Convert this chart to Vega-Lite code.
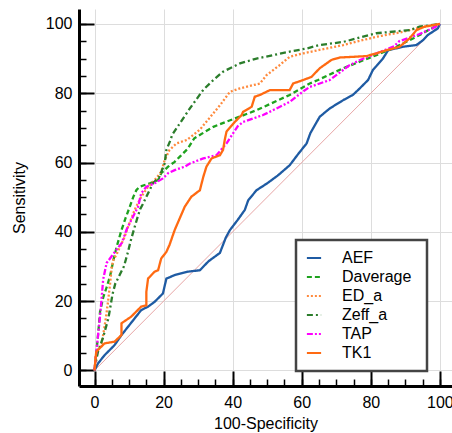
{
  "$schema": "https://vega.github.io/schema/vega-lite/v6.json",
  "width": 373,
  "height": 377,
  "autosize": {"type": "none"},
  "padding": {"left": 79, "top": 9, "right": 0, "bottom": 47},
  "config": {
    "font": "Liberation Sans",
    "view": {"stroke": null},
    "axis": {"labelFont": "Liberation Sans", "titleFont": "Liberation Sans"},
    "legend": {"strokeWidth": 2.5}
  },
  "datasets": {
    "diag": [{"x": 0, "y": 0}, {"x": 100, "y": 100}],
    "roc": [
      {"s": "AEF", "x": 0, "y": 0}, {"s": "AEF", "x": 1, "y": 2}, {"s": "AEF", "x": 2.9, "y": 4.4}, {"s": "AEF", "x": 5.8, "y": 7.3}, {"s": "AEF", "x": 7.8, "y": 10.2}, {"s": "AEF", "x": 9.7, "y": 12.6}, {"s": "AEF", "x": 11.6, "y": 15}, {"s": "AEF", "x": 13.5, "y": 17.4}, {"s": "AEF", "x": 15.5, "y": 18.4}, {"s": "AEF", "x": 17.4, "y": 19.8}, {"s": "AEF", "x": 19.8, "y": 22.2}, {"s": "AEF", "x": 20.8, "y": 26.5}, {"s": "AEF", "x": 23.2, "y": 27.5}, {"s": "AEF", "x": 27, "y": 28.5}, {"s": "AEF", "x": 30.5, "y": 28.9}, {"s": "AEF", "x": 33, "y": 31.5}, {"s": "AEF", "x": 36.3, "y": 33.9}, {"s": "AEF", "x": 38, "y": 38.3}, {"s": "AEF", "x": 39.2, "y": 40.5}, {"s": "AEF", "x": 41.5, "y": 43.5}, {"s": "AEF", "x": 43.5, "y": 46.3}, {"s": "AEF", "x": 44.5, "y": 49.1}, {"s": "AEF", "x": 46.9, "y": 52}, {"s": "AEF", "x": 50, "y": 54}, {"s": "AEF", "x": 53, "y": 56.2}, {"s": "AEF", "x": 56.5, "y": 59.2}, {"s": "AEF", "x": 59, "y": 62.5}, {"s": "AEF", "x": 61.4, "y": 65.5}, {"s": "AEF", "x": 62.5, "y": 68.5}, {"s": "AEF", "x": 65.2, "y": 73.2}, {"s": "AEF", "x": 68.1, "y": 75.6}, {"s": "AEF", "x": 72, "y": 78}, {"s": "AEF", "x": 74.8, "y": 79.5}, {"s": "AEF", "x": 76.8, "y": 81.4}, {"s": "AEF", "x": 79.2, "y": 83.8}, {"s": "AEF", "x": 80.6, "y": 86.7}, {"s": "AEF", "x": 83.5, "y": 90}, {"s": "AEF", "x": 85, "y": 92.4}, {"s": "AEF", "x": 89.3, "y": 93.4}, {"s": "AEF", "x": 93.2, "y": 93.9}, {"s": "AEF", "x": 95.1, "y": 95.3}, {"s": "AEF", "x": 96.5, "y": 96.8}, {"s": "AEF", "x": 99.4, "y": 98.7}, {"s": "AEF", "x": 100, "y": 100},

      {"s": "Daverage", "x": 0, "y": 0}, {"s": "Daverage", "x": 0.5, "y": 5}, {"s": "Daverage", "x": 1, "y": 10}, {"s": "Daverage", "x": 1.6, "y": 17}, {"s": "Daverage", "x": 2.5, "y": 21}, {"s": "Daverage", "x": 3.5, "y": 24}, {"s": "Daverage", "x": 4.5, "y": 27.2}, {"s": "Daverage", "x": 5.5, "y": 32}, {"s": "Daverage", "x": 6.5, "y": 36}, {"s": "Daverage", "x": 7.8, "y": 40.5}, {"s": "Daverage", "x": 9, "y": 44}, {"s": "Daverage", "x": 10.2, "y": 47.2}, {"s": "Daverage", "x": 11.2, "y": 50}, {"s": "Daverage", "x": 12.1, "y": 52}, {"s": "Daverage", "x": 13, "y": 53}, {"s": "Daverage", "x": 16, "y": 54}, {"s": "Daverage", "x": 18.4, "y": 54.9}, {"s": "Daverage", "x": 19.3, "y": 56.9}, {"s": "Daverage", "x": 21.3, "y": 58.8}, {"s": "Daverage", "x": 23.2, "y": 60.2}, {"s": "Daverage", "x": 25, "y": 62}, {"s": "Daverage", "x": 27, "y": 64}, {"s": "Daverage", "x": 28.9, "y": 67}, {"s": "Daverage", "x": 34.4, "y": 70.3}, {"s": "Daverage", "x": 38, "y": 71.7}, {"s": "Daverage", "x": 46.9, "y": 75.1}, {"s": "Daverage", "x": 56.5, "y": 79.5}, {"s": "Daverage", "x": 62.3, "y": 82.8}, {"s": "Daverage", "x": 64.7, "y": 83.8}, {"s": "Daverage", "x": 72, "y": 87.2}, {"s": "Daverage", "x": 81.6, "y": 91}, {"s": "Daverage", "x": 87.4, "y": 93.4}, {"s": "Daverage", "x": 93.2, "y": 96.3}, {"s": "Daverage", "x": 100, "y": 100},

      {"s": "ED_a", "x": 0, "y": 0}, {"s": "ED_a", "x": 0.3, "y": 4}, {"s": "ED_a", "x": 1, "y": 6}, {"s": "ED_a", "x": 2, "y": 7.3}, {"s": "ED_a", "x": 2.8, "y": 12}, {"s": "ED_a", "x": 3.4, "y": 16}, {"s": "ED_a", "x": 3.9, "y": 19.8}, {"s": "ED_a", "x": 4.5, "y": 25}, {"s": "ED_a", "x": 5, "y": 30}, {"s": "ED_a", "x": 5.5, "y": 32}, {"s": "ED_a", "x": 6.4, "y": 33.5}, {"s": "ED_a", "x": 7.5, "y": 36}, {"s": "ED_a", "x": 8.5, "y": 38}, {"s": "ED_a", "x": 9.7, "y": 41.4}, {"s": "ED_a", "x": 11.6, "y": 46.3}, {"s": "ED_a", "x": 13.5, "y": 50.1}, {"s": "ED_a", "x": 15.5, "y": 53}, {"s": "ED_a", "x": 17.4, "y": 54.9}, {"s": "ED_a", "x": 19.3, "y": 57.3}, {"s": "ED_a", "x": 20.3, "y": 60.7}, {"s": "ED_a", "x": 21.7, "y": 63.6}, {"s": "ED_a", "x": 23.7, "y": 65.5}, {"s": "ED_a", "x": 26.7, "y": 66.5}, {"s": "ED_a", "x": 28, "y": 67.5}, {"s": "ED_a", "x": 30.5, "y": 69.5}, {"s": "ED_a", "x": 33.4, "y": 73}, {"s": "ED_a", "x": 36.3, "y": 76.5}, {"s": "ED_a", "x": 39.2, "y": 80.4}, {"s": "ED_a", "x": 42.1, "y": 81.4}, {"s": "ED_a", "x": 47.9, "y": 82.8}, {"s": "ED_a", "x": 49.8, "y": 85.2}, {"s": "ED_a", "x": 53.6, "y": 88.1}, {"s": "ED_a", "x": 56.5, "y": 90.5}, {"s": "ED_a", "x": 60.4, "y": 91.5}, {"s": "ED_a", "x": 64.7, "y": 92.4}, {"s": "ED_a", "x": 72, "y": 93.9}, {"s": "ED_a", "x": 81.6, "y": 96.3}, {"s": "ED_a", "x": 89.3, "y": 97.7}, {"s": "ED_a", "x": 93.2, "y": 98.7}, {"s": "ED_a", "x": 100, "y": 100},

      {"s": "Zeff_a", "x": 0, "y": 0}, {"s": "Zeff_a", "x": 0.5, "y": 3}, {"s": "Zeff_a", "x": 1, "y": 5.4}, {"s": "Zeff_a", "x": 2.5, "y": 9.6}, {"s": "Zeff_a", "x": 4, "y": 15}, {"s": "Zeff_a", "x": 4.7, "y": 19}, {"s": "Zeff_a", "x": 5.2, "y": 22}, {"s": "Zeff_a", "x": 6, "y": 25}, {"s": "Zeff_a", "x": 7, "y": 27}, {"s": "Zeff_a", "x": 8.5, "y": 30}, {"s": "Zeff_a", "x": 9.5, "y": 33.5}, {"s": "Zeff_a", "x": 10.5, "y": 37.5}, {"s": "Zeff_a", "x": 11.5, "y": 41}, {"s": "Zeff_a", "x": 12.4, "y": 44}, {"s": "Zeff_a", "x": 13.2, "y": 46.5}, {"s": "Zeff_a", "x": 14, "y": 48}, {"s": "Zeff_a", "x": 15, "y": 50.1}, {"s": "Zeff_a", "x": 16.9, "y": 54}, {"s": "Zeff_a", "x": 18.8, "y": 55.9}, {"s": "Zeff_a", "x": 20.3, "y": 59.7}, {"s": "Zeff_a", "x": 20.8, "y": 63.6}, {"s": "Zeff_a", "x": 21.8, "y": 66}, {"s": "Zeff_a", "x": 22.5, "y": 68}, {"s": "Zeff_a", "x": 24.7, "y": 71.3}, {"s": "Zeff_a", "x": 27.6, "y": 75.6}, {"s": "Zeff_a", "x": 31.5, "y": 81}, {"s": "Zeff_a", "x": 34.4, "y": 83.8}, {"s": "Zeff_a", "x": 37.2, "y": 86.2}, {"s": "Zeff_a", "x": 42.1, "y": 88.6}, {"s": "Zeff_a", "x": 46.9, "y": 90}, {"s": "Zeff_a", "x": 51.7, "y": 91}, {"s": "Zeff_a", "x": 56.5, "y": 92}, {"s": "Zeff_a", "x": 61.4, "y": 92.9}, {"s": "Zeff_a", "x": 65.2, "y": 93.9}, {"s": "Zeff_a", "x": 72, "y": 94.8}, {"s": "Zeff_a", "x": 81.6, "y": 97.3}, {"s": "Zeff_a", "x": 91.2, "y": 98.2}, {"s": "Zeff_a", "x": 94.1, "y": 99.2}, {"s": "Zeff_a", "x": 100, "y": 100},

      {"s": "TAP", "x": 0, "y": 0}, {"s": "TAP", "x": 0.3, "y": 3}, {"s": "TAP", "x": 0.6, "y": 6}, {"s": "TAP", "x": 1, "y": 10}, {"s": "TAP", "x": 1.6, "y": 15.7}, {"s": "TAP", "x": 2.1, "y": 21.4}, {"s": "TAP", "x": 2.5, "y": 26.3}, {"s": "TAP", "x": 3.5, "y": 31}, {"s": "TAP", "x": 5, "y": 33}, {"s": "TAP", "x": 6.4, "y": 34.9}, {"s": "TAP", "x": 7.9, "y": 36.8}, {"s": "TAP", "x": 9.3, "y": 40.7}, {"s": "TAP", "x": 11.1, "y": 44.3}, {"s": "TAP", "x": 12.6, "y": 47.2}, {"s": "TAP", "x": 13.5, "y": 51.1}, {"s": "TAP", "x": 15, "y": 53}, {"s": "TAP", "x": 17.4, "y": 54}, {"s": "TAP", "x": 19.8, "y": 55.4}, {"s": "TAP", "x": 21.3, "y": 56.9}, {"s": "TAP", "x": 23.2, "y": 57.8}, {"s": "TAP", "x": 26.1, "y": 58.8}, {"s": "TAP", "x": 27.6, "y": 59.7}, {"s": "TAP", "x": 31.5, "y": 61.2}, {"s": "TAP", "x": 35.3, "y": 62.1}, {"s": "TAP", "x": 38.2, "y": 65.5}, {"s": "TAP", "x": 40.1, "y": 68.4}, {"s": "TAP", "x": 41.5, "y": 70.5}, {"s": "TAP", "x": 43, "y": 71.7}, {"s": "TAP", "x": 48.8, "y": 73.7}, {"s": "TAP", "x": 52.7, "y": 75.6}, {"s": "TAP", "x": 56.5, "y": 77.5}, {"s": "TAP", "x": 60.4, "y": 80.5}, {"s": "TAP", "x": 62.3, "y": 81.8}, {"s": "TAP", "x": 68.1, "y": 83.8}, {"s": "TAP", "x": 70, "y": 85.2}, {"s": "TAP", "x": 73.7, "y": 88}, {"s": "TAP", "x": 76.7, "y": 89.5}, {"s": "TAP", "x": 80.4, "y": 91}, {"s": "TAP", "x": 81.6, "y": 91.5}, {"s": "TAP", "x": 86.8, "y": 93.6}, {"s": "TAP", "x": 88.2, "y": 95}, {"s": "TAP", "x": 93.9, "y": 97}, {"s": "TAP", "x": 97.8, "y": 98.7}, {"s": "TAP", "x": 100, "y": 100},

      {"s": "TK1", "x": 0, "y": 0}, {"s": "TK1", "x": 0.3, "y": 3.5}, {"s": "TK1", "x": 0.5, "y": 5.4}, {"s": "TK1", "x": 2.9, "y": 7.8}, {"s": "TK1", "x": 5.8, "y": 8.3}, {"s": "TK1", "x": 7.8, "y": 10.2}, {"s": "TK1", "x": 7.8, "y": 13.6}, {"s": "TK1", "x": 10.6, "y": 15.5}, {"s": "TK1", "x": 13.5, "y": 18.4}, {"s": "TK1", "x": 15, "y": 18.8}, {"s": "TK1", "x": 15, "y": 22.7}, {"s": "TK1", "x": 15.5, "y": 26.5}, {"s": "TK1", "x": 17.4, "y": 28.5}, {"s": "TK1", "x": 18.4, "y": 28.9}, {"s": "TK1", "x": 19.3, "y": 32.3}, {"s": "TK1", "x": 20.8, "y": 34.2}, {"s": "TK1", "x": 21.7, "y": 36.2}, {"s": "TK1", "x": 23.2, "y": 40.5}, {"s": "TK1", "x": 26.1, "y": 47.2}, {"s": "TK1", "x": 28, "y": 50.1}, {"s": "TK1", "x": 30.5, "y": 52}, {"s": "TK1", "x": 31.5, "y": 55.9}, {"s": "TK1", "x": 32.4, "y": 58.8}, {"s": "TK1", "x": 33.9, "y": 61.2}, {"s": "TK1", "x": 36.3, "y": 62.1}, {"s": "TK1", "x": 37.2, "y": 63.6}, {"s": "TK1", "x": 37.7, "y": 66.5}, {"s": "TK1", "x": 38.2, "y": 68.9}, {"s": "TK1", "x": 40.6, "y": 71.7}, {"s": "TK1", "x": 42.6, "y": 73.7}, {"s": "TK1", "x": 43, "y": 74.6}, {"s": "TK1", "x": 45.5, "y": 76.1}, {"s": "TK1", "x": 46.4, "y": 79}, {"s": "TK1", "x": 47.9, "y": 79.5}, {"s": "TK1", "x": 50.8, "y": 80.9}, {"s": "TK1", "x": 56.5, "y": 80.9}, {"s": "TK1", "x": 57.5, "y": 82.8}, {"s": "TK1", "x": 60.4, "y": 83.8}, {"s": "TK1", "x": 62.8, "y": 84.7}, {"s": "TK1", "x": 65.2, "y": 87.2}, {"s": "TK1", "x": 68.6, "y": 89.6}, {"s": "TK1", "x": 71, "y": 90.3}, {"s": "TK1", "x": 78.7, "y": 90.7}, {"s": "TK1", "x": 81.6, "y": 91.5}, {"s": "TK1", "x": 84.5, "y": 92.4}, {"s": "TK1", "x": 88.3, "y": 93.4}, {"s": "TK1", "x": 91.2, "y": 95.8}, {"s": "TK1", "x": 93.2, "y": 98.2}, {"s": "TK1", "x": 95.6, "y": 99.2}, {"s": "TK1", "x": 100, "y": 100}
    ]
  },
  "layer": [
    {
      "data": {"name": "diag"},
      "mark": {"type": "line", "color": "#e8a6a6", "strokeWidth": 1},
      "encoding": {
        "x": {"field": "x", "type": "quantitative",
          "scale": {"domain": [-4.5, 103.5], "nice": false, "zero": false},
          "axis": {"orient": "bottom", "values": [0,5,10,15,20,25,30,35,40,45,50,55,60,65,70,75,80,85,90,95,100],
            "labels": false, "grid": false, "domain": false, "tickSize": -7, "tickWidth": 1.5, "tickColor": "#000", "title": null}},
        "y": {"field": "y", "type": "quantitative",
          "scale": {"domain": [-4.5, 104.3], "nice": false, "zero": false},
          "axis": {"orient": "left", "values": [0,5,10,15,20,25,30,35,40,45,50,55,60,65,70,75,80,85,90,95,100],
            "labels": false, "grid": false, "domain": false, "tickSize": -7, "tickWidth": 1.5, "tickColor": "#000", "title": null}}
      }
    },
    {
      "data": {"name": "roc"},
      "mark": {"type": "line", "strokeWidth": 2.3},
      "encoding": {
        "x": {"field": "x", "type": "quantitative",
          "axis": {"orient": "bottom", "values": [0,20,40,60,80,100], "grid": true, "gridColor": "#dddddd", "gridWidth": 1,
            "domain": true, "domainColor": "#000", "domainWidth": 3, "tickSize": -15, "tickWidth": 2, "tickColor": "#000",
            "labelPadding": 23, "labelFontSize": 16, "labelColor": "#000",
            "title": "100-Specificity", "titleFontSize": 16, "titleFontWeight": "normal", "titleColor": "#000", "titlePadding": 5}},
        "y": {"field": "y", "type": "quantitative",
          "axis": {"orient": "left", "values": [0,20,40,60,80,100], "grid": true, "gridColor": "#dddddd", "gridWidth": 1,
            "domain": true, "domainColor": "#000", "domainWidth": 3, "tickSize": -15, "tickWidth": 2, "tickColor": "#000",
            "labelPadding": 22, "labelFontSize": 16, "labelColor": "#000",
            "title": "Sensitivity", "titleFontSize": 16, "titleFontWeight": "normal", "titleColor": "#000", "titlePadding": 18}},
        "color": {"field": "s", "type": "nominal",
          "scale": {"domain": ["AEF", "Daverage", "ED_a", "Zeff_a", "TAP", "TK1"],
                    "range": ["#1f5ba3", "#1ea21e", "#ff8a3d", "#2b7d2b", "#ff00ff", "#ff6a12"]},
          "legend": {"orient": "none", "legendX": 217, "legendY": 231, "title": " ", "titleOrient": "right", "titlePadding": 6, "titleFontSize": 16, "padding": 10,
            "strokeColor": "#444444", "fillColor": "#ffffff", "labelFontSize": 16, "labelColor": "#000",
            "symbolType": "M-1.5,0L1.5,0", "symbolStrokeWidth": 2, "symbolSize": 90, "labelOffset": 20, "rowPadding": 3}},
        "strokeDash": {"field": "s", "type": "nominal",
          "scale": {"domain": ["AEF", "Daverage", "ED_a", "Zeff_a", "TAP", "TK1"],
                    "range": [[1, 0], [5, 3], [2, 2], [6, 3, 2, 3], [6, 2, 2, 2, 2, 2], [1, 0]]},
          "legend": {"orient": "none", "legendX": 217, "legendY": 231, "title": " ", "titleOrient": "right", "titlePadding": 6, "titleFontSize": 16, "padding": 10,
            "strokeColor": "#444444", "fillColor": "#ffffff", "labelFontSize": 16, "labelColor": "#000",
            "symbolType": "M-1.5,0L1.5,0", "symbolStrokeWidth": 2, "symbolSize": 90, "labelOffset": 20, "rowPadding": 3}}
      }
    }
  ],
  "resolve": {"axis": {"x": "independent", "y": "independent"}}
}
